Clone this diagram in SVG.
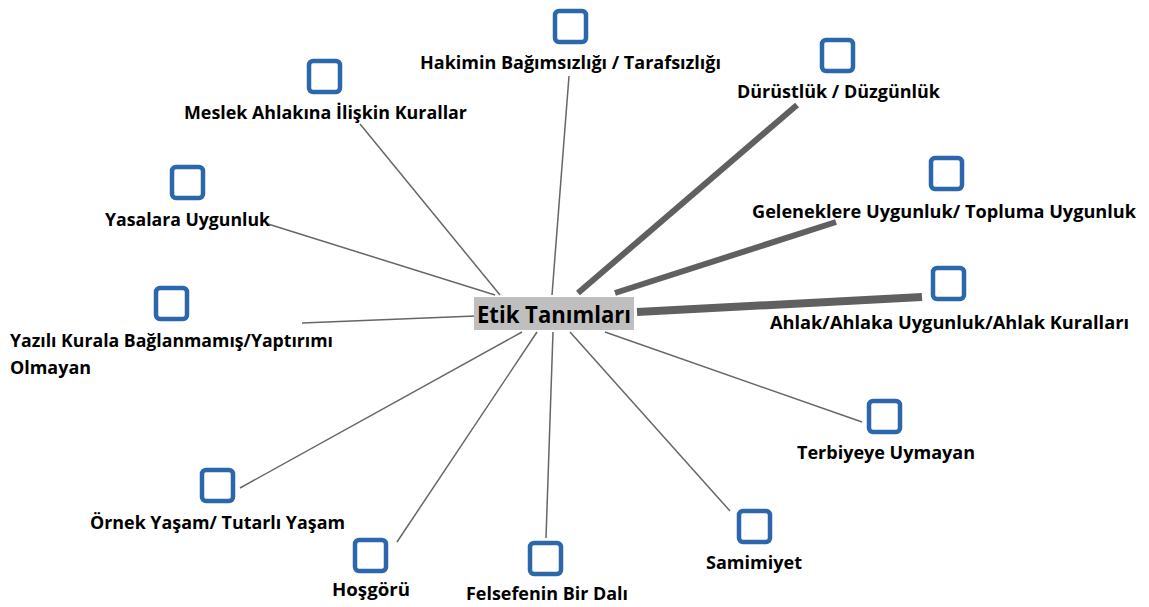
<svg xmlns="http://www.w3.org/2000/svg" width="1149" height="607" viewBox="0 0 1149 607">
<style>
.sq{fill:#fff;stroke:#2b67aa;stroke-width:4.5}
.lb{font-family:"Open Sans","Noto Sans","Liberation Sans",sans-serif;font-weight:bold;font-size:18px;fill:#000}
.c1{stroke:#666;stroke-width:1.5;fill:none}
.c2{stroke:#606060;stroke-width:6;fill:none}
.c3{stroke:#606060;stroke-width:8;fill:none}
</style>
<rect width="1149" height="607" fill="#fff"/>
<g id="connectors">
<line class="c1" x1="569" y1="76" x2="552" y2="295"/>
<line class="c1" x1="360" y1="124" x2="500" y2="295"/>
<line class="c2" x1="797" y1="105" x2="578" y2="293"/>
<line class="c1" x1="268" y1="224" x2="495" y2="295"/>
<line class="c2" x1="836" y1="222" x2="615" y2="293"/>
<line class="c1" x1="302" y1="323" x2="475" y2="316"/>
<line class="c3" x1="637" y1="312" x2="922" y2="297"/>
<line class="c1" x1="605" y1="332" x2="862" y2="422"/>
<line class="c1" x1="570" y1="332" x2="730" y2="511"/>
<line class="c1" x1="553" y1="332" x2="546" y2="538"/>
<line class="c1" x1="537" y1="332" x2="397" y2="542"/>
<line class="c1" x1="522" y1="332" x2="240" y2="488"/>
</g>
<g id="center">
<rect x="474" y="297" width="160" height="33" fill="#bfbfbf"/>
<text x="554" y="323" text-anchor="middle" font-family="Open Sans,Noto Sans,Liberation Sans,sans-serif" font-weight="bold" font-size="23" fill="#000" textLength="154" lengthAdjust="spacingAndGlyphs">Etik Tanımları</text>
</g>
<g id="n1"><rect class="sq" x="555" y="11" width="31" height="31" rx="4"/><text class="lb" x="420" y="69" textLength="301" lengthAdjust="spacingAndGlyphs">Hakimin Bağımsızlığı / Tarafsızlığı</text></g>
<g id="n2"><rect class="sq" x="309" y="61" width="31" height="31" rx="4"/><text class="lb" x="184" y="119" textLength="283" lengthAdjust="spacingAndGlyphs">Meslek Ahlakına İlişkin Kurallar</text></g>
<g id="n3"><rect class="sq" x="822" y="40" width="31" height="31" rx="4"/><text class="lb" x="737" y="98" textLength="203" lengthAdjust="spacingAndGlyphs">Dürüstlük / Düzgünlük</text></g>
<g id="n4"><rect class="sq" x="172" y="167" width="31" height="31" rx="4"/><text class="lb" x="105" y="226" textLength="165" lengthAdjust="spacingAndGlyphs">Yasalara Uygunluk</text></g>
<g id="n5"><rect class="sq" x="931" y="158" width="31" height="31" rx="4"/><text class="lb" x="752" y="218" textLength="384" lengthAdjust="spacingAndGlyphs">Geleneklere Uygunluk/ Topluma Uygunluk</text></g>
<g id="n6"><rect class="sq" x="156" y="288" width="31" height="31" rx="4"/><text class="lb" x="10" y="347" textLength="323" lengthAdjust="spacingAndGlyphs">Yazılı Kurala Bağlanmamış/Yaptırımı</text><text class="lb" x="10" y="374" textLength="81" lengthAdjust="spacingAndGlyphs">Olmayan</text></g>
<g id="n7"><rect class="sq" x="933" y="268" width="31" height="31" rx="4"/><text class="lb" x="770" y="329" textLength="359" lengthAdjust="spacingAndGlyphs">Ahlak/Ahlaka Uygunluk/Ahlak Kuralları</text></g>
<g id="n8"><rect class="sq" x="869" y="401" width="31" height="31" rx="4"/><text class="lb" x="797" y="459" textLength="178" lengthAdjust="spacingAndGlyphs">Terbiyeye Uymayan</text></g>
<g id="n9"><rect class="sq" x="739" y="511" width="31" height="31" rx="4"/><text class="lb" x="706" y="569" textLength="96" lengthAdjust="spacingAndGlyphs">Samimiyet</text></g>
<g id="n10"><rect class="sq" x="530" y="543" width="31" height="31" rx="4"/><text class="lb" x="466" y="600" textLength="162" lengthAdjust="spacingAndGlyphs">Felsefenin Bir Dalı</text></g>
<g id="n11"><rect class="sq" x="355" y="540" width="31" height="31" rx="4"/><text class="lb" x="332" y="596" textLength="78" lengthAdjust="spacingAndGlyphs">Hoşgörü</text></g>
<g id="n12"><rect class="sq" x="202" y="470" width="31" height="31" rx="4"/><text class="lb" x="90" y="529" textLength="255" lengthAdjust="spacingAndGlyphs">Örnek Yaşam/ Tutarlı Yaşam</text></g>
</svg>
